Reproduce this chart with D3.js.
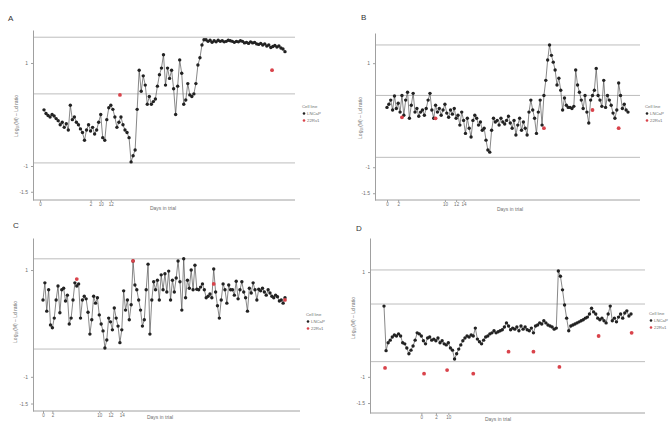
<!DOCTYPE html>
<html>
<head>
<meta charset="utf-8">
<script src="https://cdn.jsdelivr.net/npm/d3@7"></script>
<style>
  body { margin: 0; background: #fff; }
  text { font-family: "Liberation Sans", "DejaVu Sans", sans-serif; }
</style>
</head>
<body>
<script>
// data (one array per thing)
const aValues = [0.09, 0.02, -0.02, -0.05, 0.0, -0.03, -0.08, -0.12, -0.2, -0.15, -0.25, -0.18, -0.3,
    0.18, -0.1, -0.05, -0.15, -0.2, -0.28, -0.35, -0.5, -0.3, -0.2, -0.32, -0.25, -0.38, -0.3, -0.15, 0.0,
    -0.45, -0.5, -0.1, 0.13, 0.18, 0.1, -0.05, -0.25, -0.15, -0.05, -0.2, -0.3, -0.35, -0.45, -0.92, -0.8, -0.69,
    0.1, 0.86, 0.45, 0.75, 0.57, 0.2, 0.35, 0.2, 0.25, 0.3, 0.55, 0.77, 0.9, 1.16, 0.57, 0.9, 0.7, 0.86, 0.5,
    0.0, 0.55, 1.06, 0.8, 0.2, 0.28, 0.6, 0.38, 0.35, 0.4, 0.6, 0.96, 1.1, 1.35, 1.45,
    1.45, 1.42, 1.44, 1.40, 1.43, 1.41, 1.44, 1.42, 1.43, 1.41, 1.42, 1.44, 1.43, 1.42, 1.40, 1.42, 1.41, 1.43,
    1.42, 1.39, 1.40, 1.38, 1.41, 1.39, 1.40, 1.37, 1.36, 1.38, 1.35, 1.37, 1.33, 1.35, 1.30, 1.32, 1.34, 1.31,
    1.33, 1.29, 1.27, 1.22];
const aRedIdx = [37.5, 112.6];
const aRedValues = [0.38, 0.86];
const aLimits = [1.50, 0.40, -0.94];

const bValues = [0.15, 0.21, 0.29, 0.10, 0.37, 0.13, 0.23, 0.06, 0.38, 0.0, 0.29, 0.44, -0.06, 0.19, 0.42, 0.06, 0.13, -0.02,
    0.06, 0.10, 0.0, 0.13, 0.29, 0.42, 0.10, -0.06, 0.19, 0.06, 0.13, 0.0, 0.10, 0.21, 0.04, -0.04, 0.10, 0.02, 0.13, -0.06,
    0.0, -0.19, 0.06, -0.10, -0.35, -0.06, -0.25, -0.42, -0.10, 0.0, -0.06, -0.19, -0.13, -0.29, -0.25, -0.48, -0.67, -0.71,
    -0.29, -0.06, -0.13, -0.10, -0.19, -0.06, -0.13, -0.17, -0.10, -0.02, -0.15, -0.25, -0.10, -0.38, -0.19, -0.06, -0.29, -0.13, -0.25, -0.38,
    0.06, 0.29, 0.10, -0.06, -0.35, 0.06, 0.29, -0.19, 0.38, 0.67, 1.06, 1.35, 1.15, 1.02, 0.87,
    0.58, 0.71, 0.48, 0.10, 0.33, 0.19, 0.15, 0.15, 0.13, 0.17, 0.87, 0.58, 0.44, 0.29, 0.13, 0.38, 0.06, -0.15, 0.29, 0.38,
    0.48, 0.90, 0.38, 0.29, 0.17, 0.67, 0.15, 0.38, 0.29, 0.19, 0.04, -0.06, 0.10, 0.62, 0.38, 0.13, 0.21, 0.10, 0.06];
const bRedIdx = [8, 26, 84, 110, 124];
const bRedValues = [-0.04, -0.06, -0.25, 0.10, -0.25];
const bLimits = [1.35, 0.38, -0.81];

const cValues = [0.44, 0.76, 0.23, 0.63, -0.03, -0.08, 0.10, 0.44, 0.70, 0.20,
    0.63, 0.66, 0.42, 0.53, -0.01, 0.10, 0.44, 0.76, 0.70, 0.74,
    0.10, 0.44, 0.51, 0.46, 0.21, -0.20, 0.07, 0.51, 0.38, 0.48,
    0.16, -0.01, -0.14, -0.46, -0.31, 0.10, 0.03, -0.12, 0.29, 0.10,
    -0.05, -0.36, -0.12, 0.61, 0.25, 0.44, 0.07, 0.35, 1.17, 0.72,
    0.63, 0.44, 0.25, -0.05, 0.07, 0.63, 1.11, -0.20, 0.44, 0.78,
    0.63, 0.81, 0.44, 0.91, 0.63, 0.93, 0.59, 0.98, 0.44, 0.81,
    0.59, 0.85, 1.17, 0.78, 0.25, 1.21, 0.48, 0.81, 0.66, 1.0,
    0.63, 1.09, 0.64, 0.63, 0.68, 0.74, 0.63, 0.48, 0.51, 0.55,
    0.48, 1.02, 0.59, 0.33, 0.10, 0.44, 0.74, 0.63, 0.38, 0.72,
    0.63, 0.63, 0.53, 0.79, 0.46, 0.63, 0.78, 0.59, 0.48, 0.23,
    0.66, 0.57, 0.76, 0.63, 0.44, 0.64, 0.61, 0.66, 0.59, 0.53,
    0.63, 0.57, 0.51, 0.48, 0.53, 0.50, 0.42, 0.44, 0.38, 0.48];
const cRedIdx = [18, 48, 91, 129];
const cRedValues = [0.83, 1.17, 0.74, 0.44];
const cLimits = [1.21, -0.48];

const dValues = [0.35, -0.50, -0.35, -0.30, -0.24, -0.20, -0.22, -0.18, -0.22, -0.35,
    -0.37, -0.45, -0.56, -0.49, -0.41, -0.30, -0.16, -0.18, -0.22, -0.31,
    -0.37, -0.26, -0.24, -0.30, -0.28, -0.31, -0.26, -0.35, -0.31, -0.37,
    -0.39, -0.35, -0.45, -0.49, -0.66, -0.56, -0.47, -0.39, -0.31, -0.26,
    -0.22, -0.24, -0.20, -0.22, -0.07, -0.28, -0.33, -0.37, -0.30, -0.24,
    -0.22, -0.18, -0.16, -0.12, -0.16, -0.14, -0.12, -0.10, -0.05, 0.03,
    -0.03, -0.10, -0.07, -0.09, -0.05, -0.12, -0.03, -0.09, -0.05, -0.10,
    -0.12, -0.07, -0.16, -0.03, -0.01, 0.03, 0.01, 0.07, 0.03, -0.01,
    -0.03, -0.05, -0.09, -0.07, 1.02, 0.92, 0.66, 0.37, 0.12, -0.12,
    -0.03, -0.01, 0.01, 0.03, 0.05, 0.07, 0.09, 0.12, 0.14, 0.20,
    0.31, 0.24, 0.20, 0.12, 0.09, 0.12, 0.07, 0.03, 0.20, 0.35,
    0.07, 0.12, 0.05, 0.14, 0.20, 0.12, 0.22, 0.26, 0.16, 0.20];
const dRedIdx = [0.5, 19.3, 30.4, 43, 60, 72, 84.5, 103.4, 119.3];
const dRedValues = [-0.83, -0.94, -0.87, -0.94, -0.52, -0.52, -0.81, -0.22, -0.16];
const dLimits = [1.04, 0.39, -0.71];

const yTickValues = [1, -1, -1.5];
const yTickLabels = ["1", "-1", "-1.5"];
const aXTicks = [-2, 23, 28, 33];
const bXTicks = [0, 6, 31, 37, 41];
const cXTicks = [0, 5, 30, 36, 42];
const dXTicks = [18, 25, 31];
const xTickLabels = ["0", "2", "10", "12", "14"];
const panelNames = ["A", "B", "C", "D"];
const legendTitle = "Cell line";
const legendLabels = ["LNCaP", "22Rv1"];
const yTitle = "Log\u2081\u2080(M) \u2013 Ld ratio";
const xTitle = "Days in trial";

const svg = d3.select("body").append("svg")
    .attr("width", 670)
    .attr("height", 423);

// layout of the four panels in page pixels
const layout = [
    {values: aValues, redIdx: aRedIdx, redValues: aRedValues, limits: aLimits, xTicks: aXTicks,
     left: 33, right: 295, top: 30, bottom: 200, xRange: [44, 285], yDomain: [-1.66, 1.64],
     label: [8, 21], yTitleAt: [18, 116], xTitleAt: [163, 210], legendAt: [302, 108]},
    {values: bValues, redIdx: bRedIdx, redValues: bRedValues, limits: bLimits, xTicks: bXTicks,
     left: 375, right: 640, top: 33, bottom: 200, xRange: [387, 628], yDomain: [-1.63, 1.58],
     label: [361, 20], yTitleAt: [362, 118], xTitleAt: [510, 211], legendAt: [645, 108]},
    {values: cValues, redIdx: cRedIdx, redValues: cRedValues, limits: cLimits, xTicks: cXTicks,
     left: 33, right: 300, top: 238, bottom: 411, xRange: [43, 285], yDomain: [-1.64, 1.60],
     label: [13, 228], yTitleAt: [17, 322], xTitleAt: [160, 419], legendAt: [306, 316]},
    {values: dValues, redIdx: dRedIdx, redValues: dRedValues, limits: dLimits, xTicks: dXTicks,
     left: 370, right: 645, top: 238, bottom: 413, xRange: [384, 631], yDomain: [-1.69, 1.65],
     label: [356, 231], yTitleAt: [355, 318], xTitleAt: [498, 421], legendAt: [649, 315]}
];

const AXIS = "#a0a0a0";
const LIMIT = "#bdbdbd";
const DOT = "#222";
const RED = "#d9434b";
const TXT = "#6f6f6f";

function drawPanel(p, k) {
    const g = svg.append("g");

    const xScale = d3.scaleLinear().domain([0, p.values.length - 1]).range(p.xRange);
    const yScale = d3.scaleLinear().domain(p.yDomain).range([p.bottom, p.top]);

    // control limit lines
    g.selectAll(".limit")
        .data(p.limits)
        .enter()
        .append("line")
        .attr("x1", p.left)
        .attr("x2", p.right)
        .attr("y1", d => yScale(d))
        .attr("y2", d => yScale(d))
        .style("stroke", LIMIT)
        .style("stroke-width", 1);

    // y axis
    const yAxis = d3.axisLeft(yScale)
        .tickValues(yTickValues)
        .tickFormat((d, i) => yTickLabels[i])
        .tickSize(2)
        .tickSizeOuter(0)
        .tickPadding(3);
    const ya = g.append("g")
        .attr("transform", "translate(" + p.left + ",0)")
        .call(yAxis);
    ya.select(".domain").style("stroke", AXIS);
    ya.selectAll(".tick line").style("stroke", AXIS);
    ya.selectAll(".tick text").style("fill", TXT).style("font-size", "5px");

    // x axis: line across the panel, ticks from the scale
    g.append("line")
        .attr("x1", p.left)
        .attr("x2", p.right)
        .attr("y1", p.bottom)
        .attr("y2", p.bottom)
        .style("stroke", AXIS)
        .style("stroke-width", 1);
    const xAxis = d3.axisBottom(xScale)
        .tickValues(p.xTicks)
        .tickFormat((d, i) => xTickLabels[i % xTickLabels.length])
        .tickSize(2)
        .tickSizeOuter(0)
        .tickPadding(1);
    const xa = g.append("g")
        .attr("transform", "translate(0," + p.bottom + ")")
        .call(xAxis);
    xa.select(".domain").remove();
    xa.selectAll(".tick line").style("stroke", AXIS);
    xa.selectAll(".tick text").style("fill", TXT).style("font-size", "4.5px");

    // series line
    const line = d3.line()
        .x((d, i) => xScale(i))
        .y(d => yScale(d));
    g.append("path")
        .datum(p.values)
        .attr("d", line)
        .style("fill", "none")
        .style("stroke", "#555")
        .style("stroke-width", 0.7);

    g.selectAll(".pt")
        .data(p.values)
        .enter()
        .append("circle")
        .attr("cx", (d, i) => xScale(i))
        .attr("cy", d => yScale(d))
        .attr("r", 1.7)
        .style("fill", DOT);

    // red reference points
    g.selectAll(".red")
        .data(p.redValues)
        .enter()
        .append("circle")
        .attr("cx", (d, i) => xScale(p.redIdx[i]))
        .attr("cy", d => yScale(d))
        .attr("r", 1.9)
        .style("fill", RED);

    // titles
    g.append("text")
        .attr("x", p.label[0])
        .attr("y", p.label[1])
        .text(panelNames[k])
        .style("font-size", "8px")
        .style("fill", "#333");

    g.append("text")
        .attr("text-anchor", "middle")
        .attr("transform", "translate(" + p.yTitleAt[0] + "," + p.yTitleAt[1] + ")rotate(-90)")
        .text(yTitle)
        .style("font-size", "5px")
        .style("fill", TXT);

    g.append("text")
        .attr("text-anchor", "middle")
        .attr("x", p.xTitleAt[0])
        .attr("y", p.xTitleAt[1])
        .text(xTitle)
        .style("font-size", "5px")
        .style("fill", TXT);

    // legend
    const lx = p.legendAt[0], ly = p.legendAt[1];
    g.append("text")
        .attr("x", lx)
        .attr("y", ly)
        .text(legendTitle)
        .style("font-size", "4.3px")
        .style("fill", TXT);
    g.append("circle").attr("cx", lx + 2).attr("cy", ly + 5.5).attr("r", 1.3).style("fill", DOT);
    g.append("text").attr("x", lx + 5).attr("y", ly + 7).text(legendLabels[0])
        .style("font-size", "4.3px").style("fill", TXT);
    g.append("circle").attr("cx", lx + 2).attr("cy", ly + 12.5).attr("r", 1.3).style("fill", RED);
    g.append("text").attr("x", lx + 5).attr("y", ly + 14).text(legendLabels[1])
        .style("font-size", "4.3px").style("fill", TXT);
}

layout.forEach(drawPanel);
</script>
</body>
</html>
